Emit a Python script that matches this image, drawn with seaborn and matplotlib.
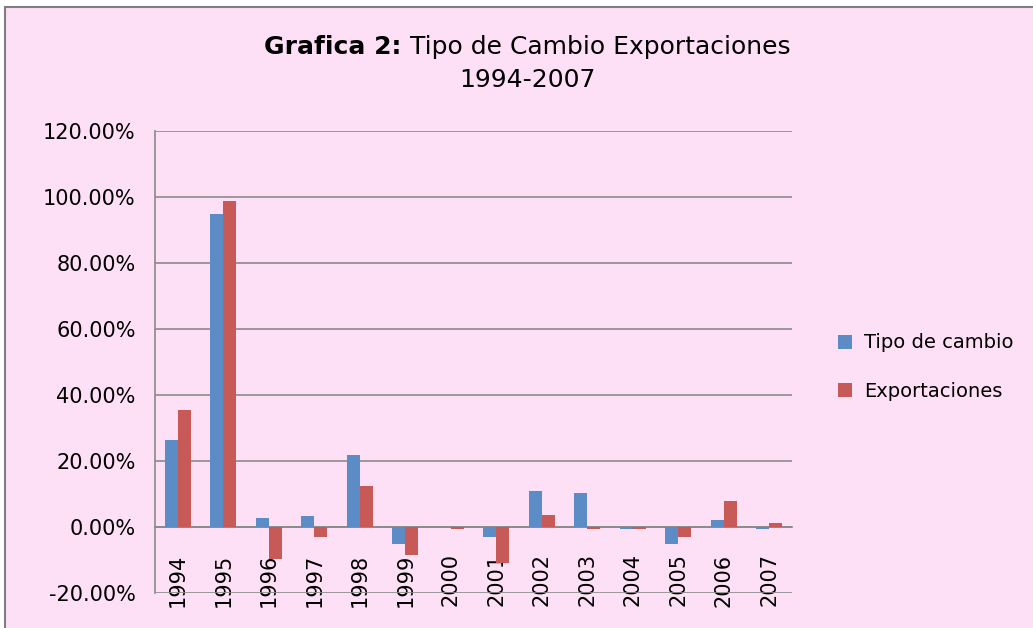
import pandas as pd
import seaborn as sns
import matplotlib
matplotlib.use('Agg')
import matplotlib.pyplot as plt
from matplotlib.patches import Rectangle
from matplotlib.ticker import FuncFormatter, MultipleLocator

# Datos (% de variación anual)
anios = ['1994', '1995', '1996', '1997', '1998', '1999', '2000',
         '2001', '2002', '2003', '2004', '2005', '2006', '2007']
tipo_cambio = [26.5, 94.7, 2.8, 3.2, 21.9, -5.0, 0.0,
               -3.0, 11.0, 10.2, -0.5, -5.3, 2.0, -0.5]
exportaciones = [35.4, 98.8, -9.6, -3.0, 12.5, -8.5, -0.6,
                 -10.8, 3.5, -0.7, -0.5, -3.0, 7.9, 1.3]
series = ['Tipo de cambio', 'Exportaciones']

df = pd.DataFrame({
    'anio': anios * 2,
    'valor': tipo_cambio + exportaciones,
    'serie': [series[0]] * len(anios) + [series[1]] * len(anios),
})

sns.set_style('white')
plt.rcParams['font.family'] = ['DejaVu Sans']
plt.rcParams['text.color'] = 'black'
plt.rcParams['xtick.color'] = 'black'
plt.rcParams['ytick.color'] = 'black'

rosa = '#FDDFF6'
gris = '#8A8A8A'
colores = ['#5B8CC6', '#C75A57']

fig = plt.figure(figsize=(10.33, 6.28), dpi=100)
fig.patch.set_facecolor('white')
# Marco del área del gráfico
marco = Rectangle((5 / 1033, -0.05), 1.1, (628 - 7) / 628 + 0.05,
                  transform=fig.transFigure, facecolor=rosa,
                  edgecolor='#7F7F7F', linewidth=1.5, zorder=-10)
fig.patches.append(marco)

ax = fig.add_axes([155 / 1033, 35 / 628, 637 / 1033, 462 / 628])
ax.set_zorder(1)
ax.patch.set_alpha(0)

sns.barplot(data=df, x='anio', y='valor', hue='serie', palette=colores,
            width=0.58, saturation=1, ax=ax, legend=True, zorder=3,
            linewidth=0, edgecolor='none')

ax.set_ylim(-20, 120)
ax.yaxis.set_major_locator(MultipleLocator(20))
ax.yaxis.set_major_formatter(FuncFormatter(lambda v, p: f'{v:.2f}%'))
ax.grid(axis='y', color=gris, linewidth=1.2, zorder=0)
ax.set_axisbelow(True)

for lado in ['top', 'right']:
    ax.spines[lado].set_visible(False)
ax.spines['left'].set_color(gris)
ax.spines['left'].set_linewidth(1.2)
ax.spines['bottom'].set_position(('data', 0))
ax.spines['bottom'].set_color(gris)
ax.spines['bottom'].set_linewidth(1.2)

ax.tick_params(axis='x', length=0, pad=19, labelsize=15, rotation=90,
               labelcolor='black')
ax.tick_params(axis='y', length=5, color=gris, labelsize=15, pad=9,
               labelcolor='black')
for lbl in ax.get_xticklabels():
    lbl.set_va('top')
ax.set_xlabel('')
ax.set_ylabel('')
ax.set_xlim(-0.5, len(anios) - 0.5)

leg = ax.legend(loc='center left', bbox_to_anchor=(828 / 1033, (628 - 367) / 628),
                bbox_transform=fig.transFigure, frameon=False, fontsize=14,
                handlelength=0.75, handleheight=0.75, labelspacing=1.5,
                handletextpad=0.6, title=None, borderpad=0)
for txt in leg.get_texts():
    txt.set_color('black')

# Título con la primera parte en negrita
fig.canvas.draw()
r = fig.canvas.get_renderer()
t1 = fig.text(0, 0, 'Grafica 2: ', fontsize=18, fontweight='bold', color='black')
t2 = fig.text(0, 0, 'Tipo de Cambio Exportaciones', fontsize=18, color='black')
w1 = t1.get_window_extent(r).width
w2 = t2.get_window_extent(r).width
x0 = 527 - (w1 + w2) / 2
y1 = 1 - 47 / 628
t1.set_position((x0 / 1033, y1))
t2.set_position(((x0 + w1) / 1033, y1))
t1.set_va('center')
t2.set_va('center')
fig.text(527 / 1033, 1 - 80 / 628, '1994-2007', fontsize=18, ha='center',
         va='center', color='black')

fig.savefig('out.png', dpi=100, facecolor=fig.get_facecolor())
